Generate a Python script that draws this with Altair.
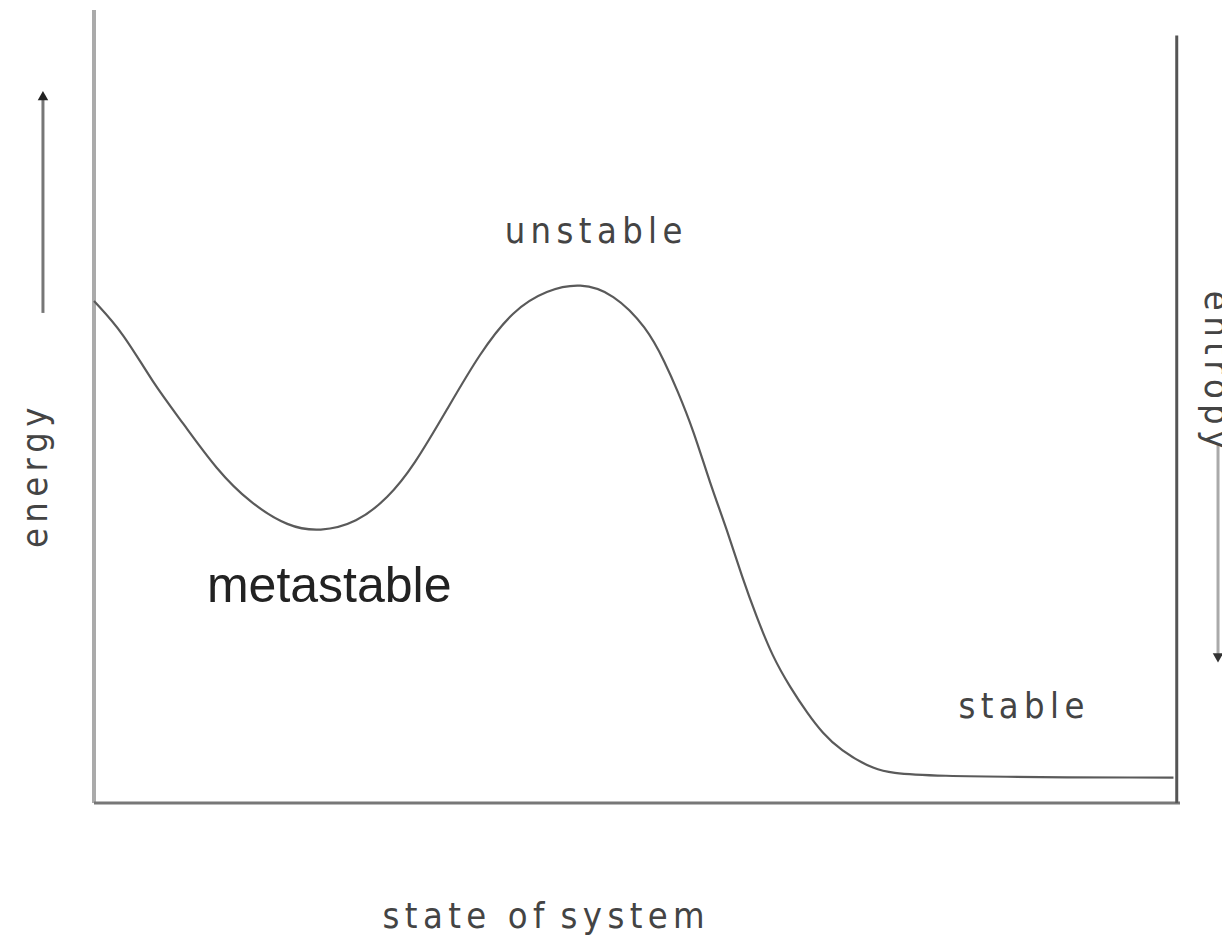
import altair as alt
import pandas as pd

# ---- data (abstract units: state 0..100 along x, energy 0..100 along y) ----
curve_state = [0, 2.7, 5.4, 8.2, 11.3, 14.4, 17.9, 20.8, 24.2, 27.1, 29.4, 32.5, 35.5,
               38.6, 41.7, 44.8, 47.8, 50.9, 52.6, 53.7, 55.2, 56.7, 58.3, 59.7, 61.0,
               62.5, 64.1, 65.7, 67.1, 68.7, 71.7, 74.9, 99.4]
curve_energy = [63.3, 59.3, 53.0, 47.9, 42.0, 37.8, 34.8, 34.2, 35.3, 38.5, 42.4, 49.6, 56.7,
                62.2, 64.7, 65.6, 64.3, 60.0, 55.5, 52.1, 47.0, 40.4, 34.4, 28.4, 23.5,
                18.4, 14.6, 11.3, 8.8, 6.7, 4.2, 3.3, 3.2]

# frame lines: (state, state2, energy, energy2)
left_frame = [0, 0, 0, 100]
bottom_frame = [0, 100, 0, 0]
right_frame = [99.7, 99.7, 0, 96.8]

# arrows: state, energy start, energy end
energy_arrow = [-4.7, 61.8, 89.2]
entropy_arrow = [103.5, 45.4, 18.3]

SP = "\u2006"
label_text = ["metastable", SP.join("unstable"), SP.join("stable")]
label_state = [10.4, 46.0, 85.4]
label_energy = [25.3, 70.6, 10.7]

x_title = SP.join("state") + "\u2002\u2006" + SP.join("of") + "\u2002" + SP.join("system")
y_title = SP.join("energy")
y2_title = SP.join("entropy")
title_state = [41.4, -4.33, 102.3]
title_energy = [-15.8, 41.0, 54.6]

NARROW = "Liberation Sans Narrow, DejaVu Sans Condensed, Arial Narrow, sans-serif"

xs = alt.Scale(domain=[0, 100], range=[86, 1172], nice=False, zero=False)
ys = alt.Scale(domain=[0, 100], range=[795, 2], nice=False, zero=False)


def X(f):
    return alt.X(f, type="quantitative", scale=xs, axis=None)


def Y(f):
    return alt.Y(f, type="quantitative", scale=ys, axis=None)


curve_df = pd.DataFrame({"state": curve_state, "energy": curve_energy})
curve = alt.Chart(curve_df).mark_line(
    color="#5a5a5a", strokeWidth=2.2, interpolate="basis"
).encode(x=X("state"), y=Y("energy"))


def frame(seg, color, width):
    df = pd.DataFrame({"s": [seg[0]], "s2": [seg[1]], "e": [seg[2]], "e2": [seg[3]]})
    return alt.Chart(df).mark_rule(color=color, strokeWidth=width).encode(
        x=X("s"), x2="s2", y=Y("e"), y2="e2"
    )


def arrow(a, line_color, head_color, shape):
    df = pd.DataFrame({"s": [a[0]], "e": [a[1]], "e2": [a[2]]})
    line = alt.Chart(df).mark_rule(color=line_color, strokeWidth=3).encode(
        x=X("s"), y=Y("e"), y2="e2"
    )
    head = alt.Chart(df).mark_point(
        shape=shape, filled=True, size=110, color=head_color, opacity=1
    ).encode(x=X("s"), y=Y("e2"))
    return line + head


lab_df = pd.DataFrame({"t": label_text, "s": label_state, "e": label_energy})
meta = alt.Chart(lab_df.iloc[[0]]).mark_text(
    font="Liberation Sans, Arial, sans-serif", fontSize=50, align="left",
    baseline="alphabetic", color="#222222"
).encode(x=X("s"), y=Y("e"), text="t")
spaced = alt.Chart(lab_df.iloc[1:]).mark_text(
    font=NARROW, fontSize=36, align="center", baseline="alphabetic", color="#444444"
).encode(x=X("s"), y=Y("e"), text="t")

xt_df = pd.DataFrame({"t": [x_title], "s": [title_state[0]], "e": [title_energy[0]]})
yt_df = pd.DataFrame({"t": [y_title], "s": [title_state[1]], "e": [title_energy[1]]})
y2_df = pd.DataFrame({"t": [y2_title], "s": [title_state[2]], "e": [title_energy[2]]})

xtitle = alt.Chart(xt_df).mark_text(
    font=NARROW, fontSize=36, align="center", baseline="alphabetic", color="#444444"
).encode(x=X("s"), y=Y("e"), text="t")
ytitle = alt.Chart(yt_df).mark_text(
    font=NARROW, fontSize=36, align="center", baseline="alphabetic", angle=270,
    color="#444444"
).encode(x=X("s"), y=Y("e"), text="t")
y2title = alt.Chart(y2_df).mark_text(
    font=NARROW, fontSize=36, align="center", baseline="alphabetic", angle=90,
    color="#444444"
).encode(x=X("s"), y=Y("e"), text="t")

chart = alt.layer(
    frame(left_frame, "#aaaaaa", 4),
    frame(bottom_frame, "#777777", 3),
    frame(right_frame, "#555555", 3),
    curve,
    arrow(energy_arrow, "#777777", "#222222", "triangle-up"),
    arrow(entropy_arrow, "#aaaaaa", "#333333", "triangle-down"),
    meta, spaced, xtitle, ytitle, y2title,
).properties(
    width=1214, height=930, autosize=alt.AutoSizeParams(type="none"), padding=0,
    background="white",
).configure_view(stroke=None)

chart.save("out.html", embed_options={"renderer": "svg", "actions": False})
